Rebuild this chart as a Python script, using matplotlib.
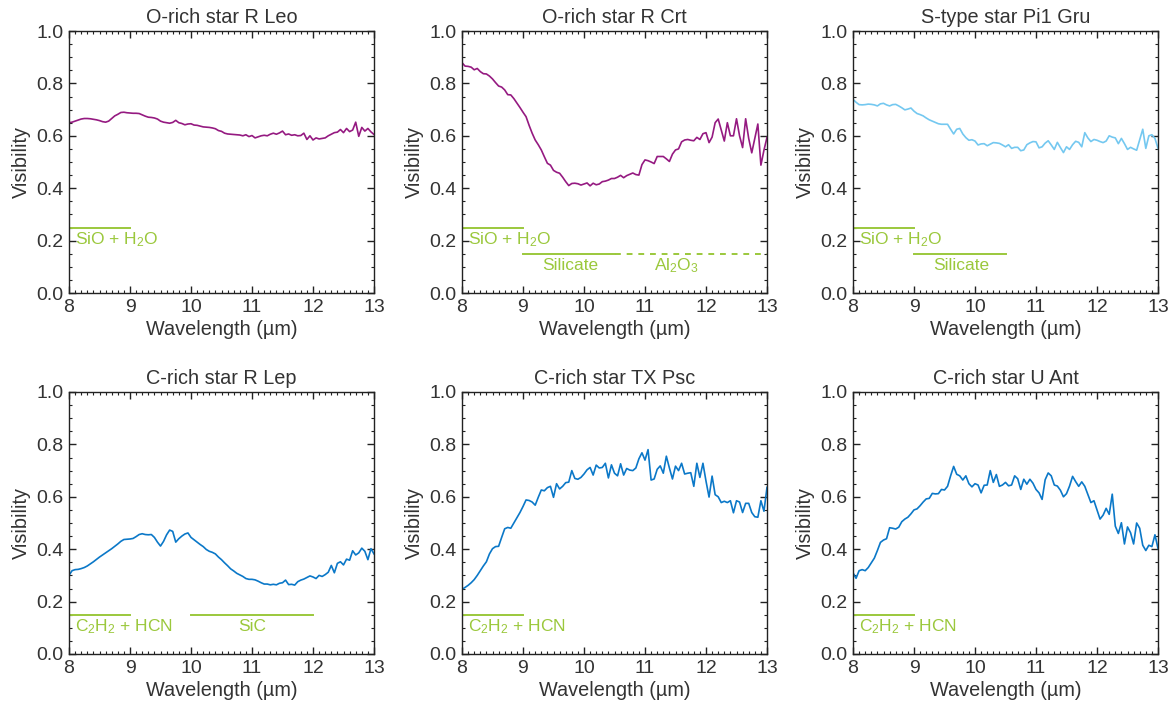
import numpy as np
import matplotlib
matplotlib.use("Agg")
import matplotlib.pyplot as plt
from matplotlib.ticker import MultipleLocator

plt.rcParams['font.family'] = ['Liberation Sans', 'DejaVu Sans']

# wavelength grid (micron), 0.05 step
wl = np.linspace(8.0, 13.0, 101)

r_leo = [0.650, 0.652, 0.656, 0.660, 0.664, 0.666, 0.666, 0.665, 0.663, 0.661,
         0.658, 0.654, 0.652, 0.656, 0.666, 0.676, 0.682, 0.689, 0.690, 0.688,
         0.687, 0.686, 0.686, 0.685, 0.680, 0.675, 0.671, 0.670, 0.668, 0.664,
         0.656, 0.652, 0.650, 0.648, 0.651, 0.659, 0.650, 0.647, 0.642, 0.645,
         0.646, 0.641, 0.640, 0.637, 0.634, 0.633, 0.632, 0.630, 0.627, 0.620,
         0.617, 0.610, 0.607, 0.606, 0.605, 0.604, 0.603, 0.600, 0.604, 0.597,
         0.601, 0.592, 0.596, 0.600, 0.602, 0.600, 0.606, 0.610, 0.606, 0.611,
         0.618, 0.604, 0.607, 0.602, 0.604, 0.600, 0.601, 0.610, 0.586, 0.600,
         0.584, 0.592, 0.588, 0.590, 0.592, 0.600, 0.606, 0.612, 0.614, 0.624,
         0.612, 0.628, 0.616, 0.622, 0.652, 0.598, 0.632, 0.618, 0.628, 0.615,
         0.605]

r_crt = [0.879, 0.866, 0.865, 0.862, 0.852, 0.857, 0.845, 0.837, 0.836, 0.828,
         0.817, 0.803, 0.790, 0.786, 0.775, 0.757, 0.756, 0.742, 0.725, 0.708,
         0.690, 0.673, 0.640, 0.610, 0.584, 0.566, 0.546, 0.520, 0.495, 0.488,
         0.468, 0.461, 0.457, 0.442, 0.425, 0.410, 0.418, 0.419, 0.417, 0.412,
         0.416, 0.420, 0.409, 0.419, 0.413, 0.416, 0.425, 0.427, 0.431, 0.437,
         0.437, 0.442, 0.449, 0.440, 0.448, 0.453, 0.458, 0.452, 0.450, 0.490,
         0.508, 0.505, 0.500, 0.494, 0.521, 0.521, 0.521, 0.512, 0.502, 0.530,
         0.546, 0.550, 0.577, 0.584, 0.586, 0.583, 0.581, 0.594, 0.586, 0.608,
         0.612, 0.574, 0.595, 0.650, 0.664, 0.622, 0.580, 0.650, 0.600, 0.600,
         0.665, 0.600, 0.555, 0.665, 0.590, 0.535, 0.590, 0.645, 0.488, 0.545,
         0.594]

pi1_gru = [0.739, 0.728, 0.719, 0.718, 0.719, 0.721, 0.720, 0.718, 0.714, 0.722,
           0.724, 0.718, 0.714, 0.719, 0.720, 0.714, 0.707, 0.699, 0.702, 0.706,
           0.694, 0.685, 0.681, 0.676, 0.668, 0.661, 0.656, 0.651, 0.646, 0.644,
           0.644, 0.644, 0.625, 0.607, 0.625, 0.628, 0.607, 0.593, 0.583, 0.585,
           0.580, 0.565, 0.569, 0.570, 0.562, 0.568, 0.574, 0.573, 0.571, 0.565,
           0.558, 0.566, 0.552, 0.556, 0.556, 0.543, 0.546, 0.566, 0.573, 0.578,
           0.577, 0.554, 0.558, 0.572, 0.581, 0.565, 0.548, 0.575, 0.555, 0.536,
           0.558, 0.548, 0.566, 0.579, 0.575, 0.558, 0.612, 0.592, 0.578, 0.586,
           0.583, 0.578, 0.574, 0.580, 0.600, 0.595, 0.592, 0.570, 0.590, 0.570,
           0.548, 0.556, 0.550, 0.545, 0.585, 0.625, 0.552, 0.600, 0.604, 0.590,
           0.552]

r_lep = [0.300, 0.318, 0.322, 0.323, 0.326, 0.330, 0.336, 0.344, 0.352, 0.361,
         0.370, 0.378, 0.386, 0.394, 0.402, 0.411, 0.420, 0.430, 0.437, 0.438,
         0.439, 0.441, 0.448, 0.456, 0.459, 0.456, 0.455, 0.456, 0.445, 0.427,
         0.412, 0.430, 0.455, 0.473, 0.468, 0.427, 0.440, 0.450, 0.458, 0.462,
         0.445, 0.436, 0.427, 0.418, 0.410, 0.399, 0.392, 0.388, 0.382, 0.370,
         0.360, 0.348, 0.337, 0.325, 0.317, 0.308, 0.302, 0.296, 0.288, 0.285,
         0.285, 0.283, 0.278, 0.272, 0.267, 0.267, 0.264, 0.266, 0.264, 0.270,
         0.272, 0.282, 0.265, 0.266, 0.263, 0.276, 0.282, 0.286, 0.292, 0.298,
         0.294, 0.288, 0.300, 0.296, 0.303, 0.312, 0.338, 0.310, 0.346, 0.352,
         0.340, 0.362, 0.358, 0.394, 0.378, 0.386, 0.404, 0.392, 0.360, 0.402,
         0.382]

tx_psc = [0.247, 0.254, 0.262, 0.272, 0.284, 0.300, 0.318, 0.336, 0.352, 0.382,
          0.402, 0.410, 0.411, 0.445, 0.478, 0.483, 0.480, 0.500, 0.520, 0.540,
          0.563, 0.588, 0.586, 0.580, 0.568, 0.598, 0.626, 0.623, 0.635, 0.640,
          0.598, 0.650, 0.630, 0.640, 0.654, 0.656, 0.700, 0.670, 0.667, 0.674,
          0.687, 0.703, 0.712, 0.683, 0.721, 0.710, 0.712, 0.728, 0.672, 0.722,
          0.690, 0.680, 0.726, 0.683, 0.708, 0.702, 0.700, 0.710, 0.745, 0.768,
          0.740, 0.780, 0.664, 0.668, 0.705, 0.718, 0.690, 0.755, 0.710, 0.668,
          0.717, 0.700, 0.728, 0.687, 0.690, 0.692, 0.640, 0.728, 0.674, 0.728,
          0.660, 0.599, 0.679, 0.608, 0.600, 0.578, 0.583, 0.578, 0.585, 0.539,
          0.585, 0.580, 0.540, 0.575, 0.575, 0.540, 0.524, 0.522, 0.585, 0.545,
          0.636]

u_ant = [0.310, 0.289, 0.318, 0.322, 0.318, 0.330, 0.348, 0.366, 0.395, 0.426,
         0.435, 0.440, 0.482, 0.480, 0.477, 0.484, 0.505, 0.515, 0.522, 0.535,
         0.550, 0.554, 0.566, 0.580, 0.592, 0.594, 0.613, 0.611, 0.612, 0.628,
         0.626, 0.640, 0.680, 0.716, 0.686, 0.680, 0.664, 0.680, 0.650, 0.638,
         0.650, 0.645, 0.615, 0.644, 0.645, 0.700, 0.655, 0.685, 0.640, 0.645,
         0.655, 0.642, 0.645, 0.680, 0.669, 0.628, 0.667, 0.648, 0.667, 0.652,
         0.628, 0.615, 0.590, 0.665, 0.691, 0.680, 0.645, 0.641, 0.625, 0.600,
         0.612, 0.641, 0.678, 0.658, 0.640, 0.657, 0.640, 0.609, 0.578, 0.585,
         0.550, 0.515, 0.530, 0.556, 0.533, 0.610, 0.488, 0.460, 0.501, 0.420,
         0.485, 0.463, 0.420, 0.500, 0.480, 0.415, 0.395, 0.415, 0.410, 0.455,
         0.403]

titles = ['O-rich star R Leo', 'O-rich star R Crt', 'S-type star Pi1 Gru',
          'C-rich star R Lep', 'C-rich star TX Psc', 'C-rich star U Ant']
series = [r_leo, r_crt, pi1_gru, r_lep, tx_psc, u_ant]

PURPLE = '#951a81'
LIGHTBLUE = '#74c8f0'
BLUE = '#0b78c8'
GREEN = '#9bc83c'
TEXT = '#333333'
colors = [PURPLE, PURPLE, LIGHTBLUE, BLUE, BLUE, BLUE]

sio = r'SiO + H$\mathregular{_2}$O'
c2h2 = r'C$\mathregular{_2}$H$\mathregular{_2}$ + HCN'
al2o3 = r'Al$\mathregular{_2}$O$\mathregular{_3}$'

# feature bands: (start, end, level, label, label x, label anchor, linestyle)
bands = [
    [(8, 9, 0.25, sio, 8.1, 'left', '-')],
    [(8, 9, 0.25, sio, 8.1, 'left', '-'),
     (9, 10.5, 0.15, 'Silicate', 9.78, 'center', '-'),
     (10.5, 13, 0.15, al2o3, 11.52, 'center', '--')],
    [(8, 9, 0.25, sio, 8.1, 'left', '-'),
     (9, 10.5, 0.15, 'Silicate', 9.78, 'center', '-')],
    [(8, 9, 0.15, c2h2, 8.1, 'left', '-'),
     (10, 12, 0.15, 'SiC', 11.0, 'center', '-')],
    [(8, 9, 0.15, c2h2, 8.1, 'left', '-')],
    [(8, 9, 0.15, c2h2, 8.1, 'left', '-')],
]

fig = plt.figure(figsize=(11.7, 7.03), dpi=100)
lefts = [69 / 1170, 462 / 1170, 853 / 1170]
bottoms = [1 - 293 / 703, 1 - 654 / 703]
w = 305 / 1170
h = 262 / 703

for i in range(6):
    ax = fig.add_axes([lefts[i % 3], bottoms[i // 3], w, h])
    ax.plot(wl, series[i], color=colors[i], lw=1.2)

    for x0, x1, lev, lab, tx, ha, ls in bands[i]:
        ax.plot([x0, x1], [lev, lev], color=GREEN, lw=1.4, ls=ls,
                dashes=(3, 3) if ls == '--' else (None, None))
        ax.text(tx, lev - 0.045, lab, color=GREEN, fontsize=12.5,
                ha=ha, va='center')

    ax.set_xlim(8, 13)
    ax.set_ylim(0, 1)
    ax.xaxis.set_major_locator(MultipleLocator(1))
    ax.xaxis.set_minor_locator(MultipleLocator(0.1))
    ax.yaxis.set_major_locator(MultipleLocator(0.2))
    ax.yaxis.set_minor_locator(MultipleLocator(0.05))
    ax.yaxis.set_major_formatter(matplotlib.ticker.FormatStrFormatter('%.1f'))
    ax.tick_params(which='both', direction='in', top=True, right=True,
                   colors='#222222', labelcolor=TEXT, labelsize=14)
    ax.tick_params(which='major', length=5, width=1, pad=4)
    ax.tick_params(which='minor', length=2.5, width=0.8)
    for sp in ax.spines.values():
        sp.set_color('#222222')
        sp.set_linewidth(1)

    ax.set_title(titles[i], fontsize=14.3, color=TEXT, pad=6)
    ax.set_xlabel('Wavelength (\u00b5m)', fontsize=14.3, color=TEXT, labelpad=3)
    ax.set_ylabel('Visibility', fontsize=14.3, color=TEXT, labelpad=4)

fig.savefig('out.png', dpi=100)
